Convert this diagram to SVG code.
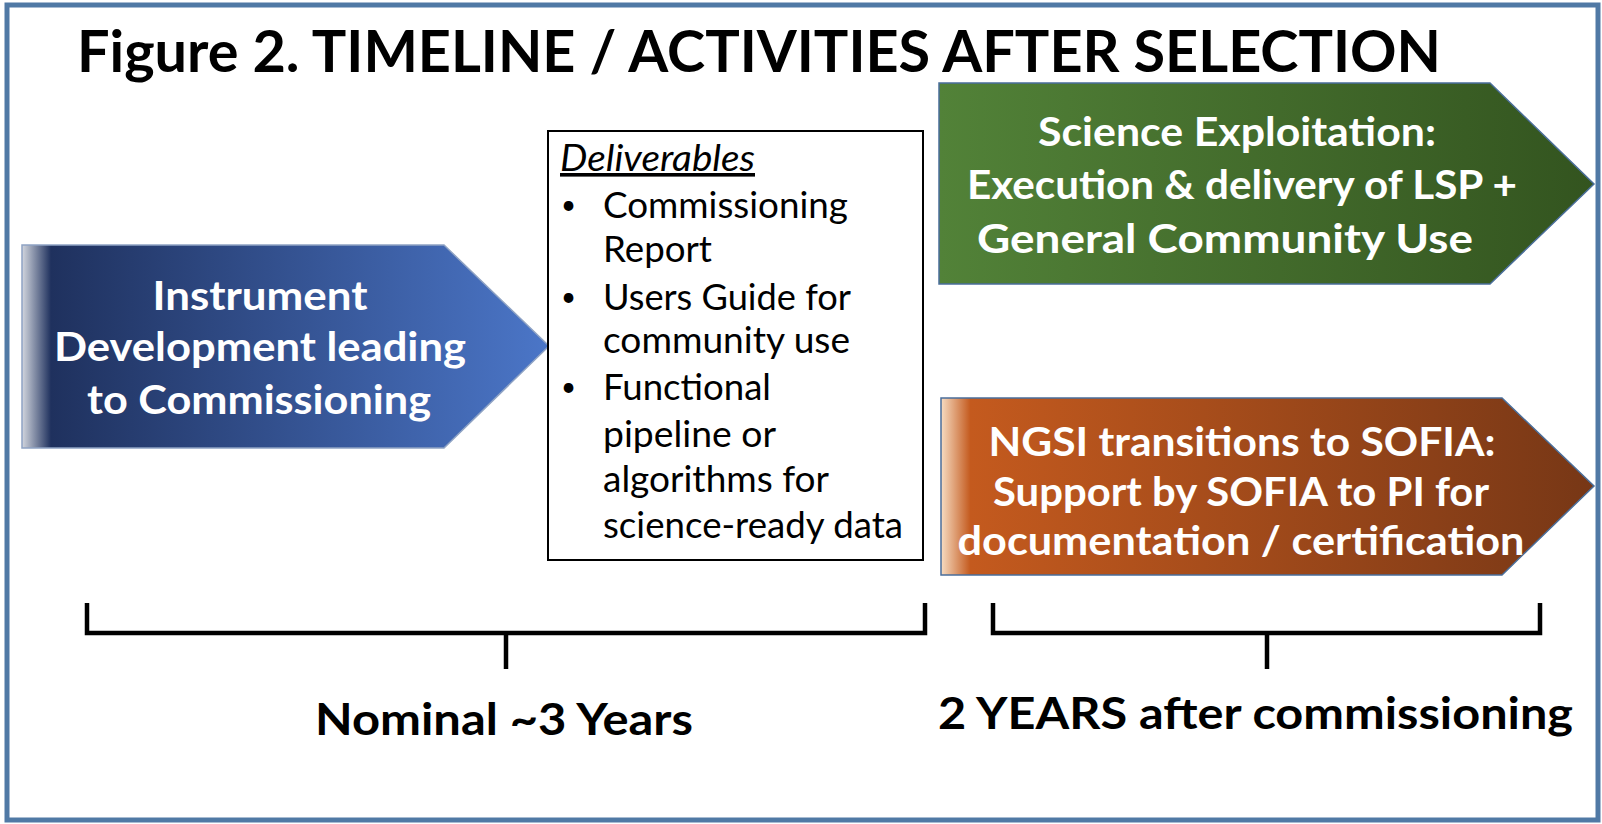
<svg xmlns="http://www.w3.org/2000/svg" width="1602" height="824" viewBox="0 0 1602 824">
<defs>
<linearGradient id="gBlue" x1="22" y1="0" x2="549" y2="0" gradientUnits="userSpaceOnUse">
<stop offset="0" stop-color="#d2d6de"/>
<stop offset="0.055" stop-color="#1f315e"/>
<stop offset="1" stop-color="#4b76c8"/>
</linearGradient>
<linearGradient id="gGreen" x1="939" y1="0" x2="1594" y2="0" gradientUnits="userSpaceOnUse">
<stop offset="0" stop-color="#528238"/>
<stop offset="1" stop-color="#33541f"/>
</linearGradient>
<linearGradient id="gOrange" x1="941" y1="0" x2="1594" y2="0" gradientUnits="userSpaceOnUse">
<stop offset="0" stop-color="#f6dcc2"/>
<stop offset="0.045" stop-color="#c45a1e"/>
<stop offset="1" stop-color="#773716"/>
</linearGradient>
<style>
.w{font-family:Lato,"Open Sans","Liberation Sans",sans-serif;font-weight:bold;fill:#fff;font-size:40px;text-anchor:middle}
.d{font-family:Lato,"Open Sans","Liberation Sans",sans-serif;font-size:36px;fill:#000}
.bu{font-family:Lato,"Open Sans","Liberation Sans",sans-serif;font-size:26px;fill:#000}
.b{font-family:Lato,"Open Sans","Liberation Sans",sans-serif;font-weight:bold;fill:#000}
.br{fill:none;stroke:#000;stroke-width:4.5;stroke-linejoin:miter}
</style>
</defs>
<rect x="0" y="0" width="1602" height="824" fill="#fff"/>
<rect x="7" y="5" width="1591" height="815" fill="none" stroke="#5079a5" stroke-width="5"/>
<text id="title" class="b" x="77" y="72" font-size="57" textLength="1364" lengthAdjust="spacingAndGlyphs">Figure 2. TIMELINE / ACTIVITIES AFTER SELECTION</text>

<g id="dev">
<path d="M22,245 H444 L549,346 L444,448 H22 Z" fill="url(#gBlue)" stroke="#8fa3c4" stroke-width="1.5"/>
<text class="w" x="260" y="310" textLength="215" lengthAdjust="spacingAndGlyphs">Instrument</text>
<text class="w" x="260" y="361" textLength="412" lengthAdjust="spacingAndGlyphs">Development leading</text>
<text class="w" x="259" y="414" textLength="344" lengthAdjust="spacingAndGlyphs">to Commissioning</text>
</g>

<g id="deliverables">
<rect x="548" y="131" width="375" height="429" fill="#fff" stroke="#000" stroke-width="2"/>
<text class="d" x="560" y="171" font-style="italic" text-decoration="underline" textLength="195" lengthAdjust="spacingAndGlyphs">Deliverables</text>
<text class="bu" x="561" y="214">•</text>
<text class="d" x="603" y="218" textLength="245" lengthAdjust="spacingAndGlyphs">Commissioning</text>
<text class="d" x="603" y="262" textLength="109" lengthAdjust="spacingAndGlyphs">Report</text>
<text class="bu" x="561" y="306">•</text>
<text class="d" x="603" y="310" textLength="248" lengthAdjust="spacingAndGlyphs">Users Guide for</text>
<text class="d" x="603" y="353" textLength="247" lengthAdjust="spacingAndGlyphs">community use</text>
<text class="bu" x="561" y="396">•</text>
<text class="d" x="603" y="400" textLength="168" lengthAdjust="spacingAndGlyphs">Functional</text>
<text class="d" x="603" y="447" textLength="173" lengthAdjust="spacingAndGlyphs">pipeline or</text>
<text class="d" x="603" y="492" textLength="226" lengthAdjust="spacingAndGlyphs">algorithms for</text>
<text class="d" x="603" y="538" textLength="300" lengthAdjust="spacingAndGlyphs">science-ready data</text>
</g>

<g id="science">
<path d="M939,83 H1490 L1594,184 L1490,284 H939 Z" fill="url(#gGreen)" stroke="#4a6e9a" stroke-width="1.5"/>
<text class="w" x="1237" y="146" textLength="398" lengthAdjust="spacingAndGlyphs">Science Exploitation:</text>
<text class="w" x="1242" y="199" textLength="550" lengthAdjust="spacingAndGlyphs">Execution &amp; delivery of LSP +</text>
<text class="w" x="1225" y="253" textLength="496" lengthAdjust="spacingAndGlyphs">General Community Use</text>
</g>

<g id="ngsi">
<path d="M941,398 H1502 L1594,486 L1502,575 H941 Z" fill="url(#gOrange)" stroke="#4a6e9a" stroke-width="1.5"/>
<text class="w" x="1242" y="456" textLength="507" lengthAdjust="spacingAndGlyphs">NGSI transitions to SOFIA:</text>
<text class="w" x="1241" y="506" textLength="496" lengthAdjust="spacingAndGlyphs">Support by SOFIA to PI for</text>
<text class="w" x="1241" y="555" textLength="567" lengthAdjust="spacingAndGlyphs">documentation / certification</text>
</g>

<g id="connectors">
<path class="br" d="M87,603 V633 H506 H925 V603 M506,633 V669"/>
<path class="br" d="M993,603 V633 H1267 H1540 V603 M1267,633 V669"/>
</g>

<g id="labels">
<text class="b" x="315" y="735" font-size="43" textLength="378" lengthAdjust="spacingAndGlyphs">Nominal ~3 Years</text>
<text class="b" x="938" y="729" font-size="43" textLength="635" lengthAdjust="spacingAndGlyphs">2 YEARS after commissioning</text>
</g>
</svg>
